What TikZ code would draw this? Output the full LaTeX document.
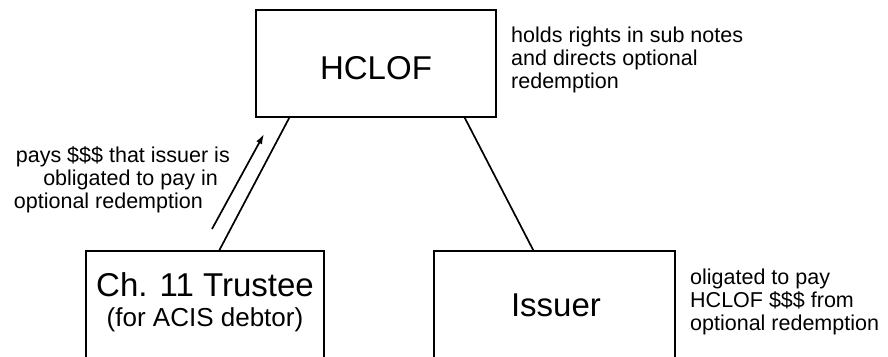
\documentclass[tikz,border=0pt]{standalone}
\usepackage{fontspec}
\setmainfont{Liberation Sans}
\usetikzlibrary{arrows.meta}
\begin{document}
\begin{tikzpicture}[x=1pt, y=-1pt,
	party/.style = {shape=rectangle, draw, line width=1.4pt, inner sep=0pt},
	big/.style = {inner sep=0pt, font=\fontsize{33}{36}\selectfont},
	small/.style = {inner sep=0pt, font=\fontsize{26}{30}\selectfont},
	note/.style = {inner sep=0pt, font=\fontsize{21.5}{23}\selectfont},
	link/.style = {line width=1.7pt}]
	\useasboundingbox (0,0) rectangle (888,356);
	\clip (0,0) rectangle (888,356);
	\node[party, minimum width=240pt, minimum height=107pt] (hclof) at (376,63.5) {};
	\node[party, minimum width=238pt, minimum height=160pt] (trustee) at (205,331) {};
	\node[party, minimum width=241pt, minimum height=160pt] (issuer) at (554.5,331) {};
	\node[big] (hclofname) at (376,68) {HCLOF};
	\node[big] (trusteename) at (205,285) {Ch. 11 Trustee};
	\node[small] (trusteefor) at (205,320) {(for ACIS debtor)};
	\node[big] (issuername) at (556,305) {Issuer};
	% who is tied to whom
	\draw[link] ([xshift=34pt]hclof.south west) -- ([xshift=134pt]trustee.north west);
	\draw[link] ([xshift=-32pt]hclof.south east) -- ([xshift=100pt]issuer.north west);
	\coordinate (paytail) at (212,229);
	\coordinate (payhead) at (264,134);
	\draw[link, -{Latex[length=10pt,width=6.5pt]}] (paytail) -- (payhead);
	% notes
	\node[note, anchor=west, align=left] (holdnote) at (511,59.5)
		{holds rights in sub notes\\and directs optional\\redemption};
	\node[note, anchor=east, align=right] (paynote) at (230,180)
		{pays \$\$\$ that issuer is\\obligated to pay in\makebox[12pt]{}\\optional redemption\makebox[27pt]{}};
	\node[note, anchor=west, align=left] (oblignote) at (690,301.5)
		{oligated to pay\\HCLOF \$\$\$ from\\optional redemption};
\end{tikzpicture}
\end{document}
